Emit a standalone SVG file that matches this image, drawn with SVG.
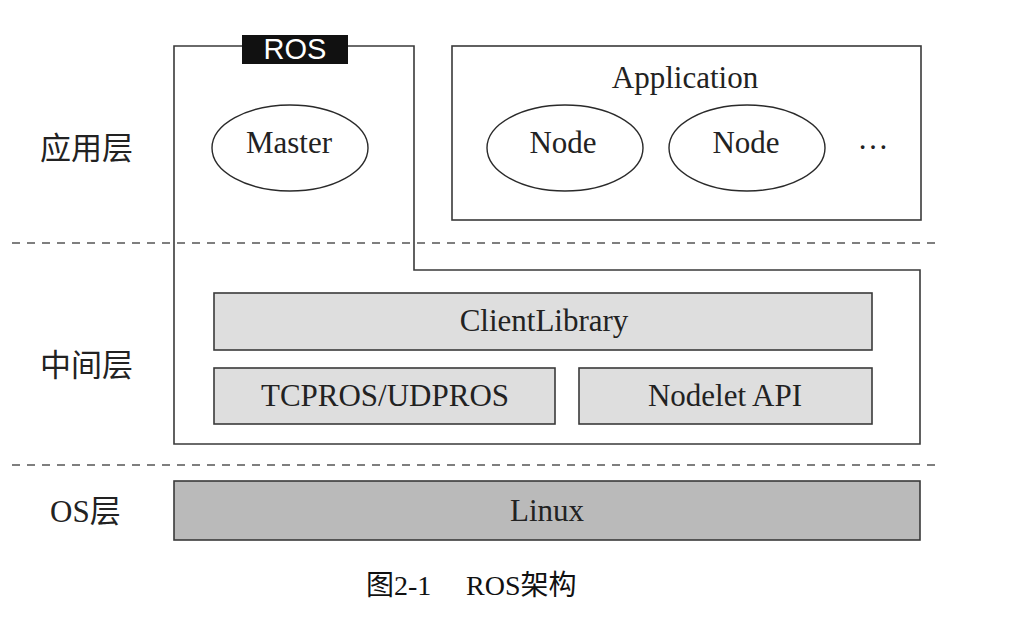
<svg xmlns="http://www.w3.org/2000/svg" width="1029" height="630" viewBox="0 0 1029 630">
<style>
.frame{fill:none;stroke:#3a3a3a;stroke-width:1.6}
.box{fill:#dedede;stroke:#3a3a3a;stroke-width:1.6}
.os{fill:#bababa;stroke:#3a3a3a;stroke-width:1.6}
.ell{fill:#ffffff;stroke:#2a2a2a;stroke-width:1.4}
.dash{stroke:#555;stroke-width:1.6;stroke-dasharray:8 7;fill:none}
.t{font-family:"Liberation Serif","Noto Sans CJK SC",serif;font-size:31px;fill:#222;text-anchor:middle}
.lbl{font-family:"Liberation Serif","Noto Sans CJK SC",serif;font-size:31px;fill:#222}
.cap{font-family:"Liberation Serif","Noto Sans CJK SC",serif;font-size:28px;fill:#111}
</style>
<rect width="1029" height="630" fill="#ffffff"/>
<g id="separators">
<line class="dash" x1="12" y1="243" x2="935" y2="243"/>
<line class="dash" x1="12" y1="465" x2="935" y2="465"/>
</g>
<g id="layer-labels">
<text class="lbl" x="40" y="159">应用层</text>
<text class="lbl" x="40" y="376">中间层</text>
<text class="lbl" x="50" y="522">OS层</text>
</g>
<g id="ros">
<path class="frame" d="M174,444 V46 H414 V270 H920 V444 Z"/>
<rect x="242" y="35" width="106" height="29" fill="#111"/>
<text x="295" y="59" font-family="Liberation Sans, Arial, sans-serif" font-size="29" fill="#ffffff" text-anchor="middle">ROS</text>
</g>
<g id="master">
<ellipse class="ell" cx="290" cy="148" rx="78" ry="43"/>
<text class="t" x="289" y="153">Master</text>
</g>
<g id="application">
<rect class="frame" x="452" y="46" width="469" height="174" fill="#fff"/>
<text class="t" x="685" y="88">Application</text>
</g>
<g id="node1">
<ellipse class="ell" cx="565" cy="148" rx="78" ry="43"/>
<text class="t" x="563" y="153">Node</text>
</g>
<g id="node2">
<ellipse class="ell" cx="747" cy="148" rx="78" ry="43"/>
<text class="t" x="746" y="153">Node</text>
</g>
<g id="more">
<text class="t" x="873" y="149">…</text>
</g>
<g id="clientlibrary">
<rect class="box" x="214" y="293" width="658" height="57"/>
<text class="t" x="544" y="331">ClientLibrary</text>
</g>
<g id="tcpros">
<rect class="box" x="214" y="368" width="341" height="56"/>
<text class="t" x="385" y="406">TCPROS/UDPROS</text>
</g>
<g id="nodelet">
<rect class="box" x="579" y="368" width="293" height="56"/>
<text class="t" x="725" y="406">Nodelet API</text>
</g>
<g id="linux">
<rect class="os" x="174" y="481" width="746" height="59"/>
<text class="t" x="547" y="521">Linux</text>
</g>
<g id="connectors"></g>
<g id="caption">
<text class="cap" x="366" y="595">图2-1</text>
<text class="cap" x="466" y="595">ROS架构</text>
</g>
</svg>
